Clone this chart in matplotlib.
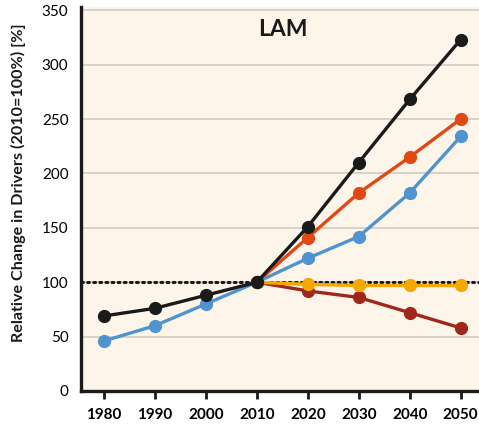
import matplotlib
matplotlib.use("Agg")
import matplotlib.pyplot as plt

years = [1980, 1990, 2000, 2010, 2020, 2030, 2040, 2050]
years_proj = [2010, 2020, 2030, 2040, 2050]

black_vals = [69, 76, 88, 100, 151, 210, 268, 323]
blue_vals = [46, 60, 80, 100, 122, 142, 182, 234]
orange_vals = [100, 141, 182, 215, 250]
yellow_vals = [100, 98, 97, 97, 97]
darkred_vals = [100, 92, 86, 72, 58]

yticks = [0, 50, 100, 150, 200, 250, 300, 350]
panel_title = "LAM"
ylabel = "Relative Change in Drivers (2010=100%) [%]"

plt.rcParams['font.family'] = ['Lato', 'DejaVu Sans']

fig = plt.figure(figsize=(4.79, 4.29), dpi=100)
ax = fig.add_axes([0.169, 0.0886, 0.831, 0.895])
bg = '#fdf5ea'
ax.set_facecolor(bg)

ax.set_xlim(1975.5, 2053.6)
ax.set_ylim(0, 353)

for y in yticks[1:]:
    ax.axhline(y, color='#d4d0c8', lw=1.3, zorder=1)
ax.axhline(100, color='#1a1a1a', lw=2.2, ls=(0, (0.6, 1.4)), dash_capstyle='round', zorder=2)

lw = 2.4
ms = 8.5
ax.plot(years, blue_vals, color='#4f93d1', lw=lw, marker='o', ms=ms, zorder=3)
ax.plot(years_proj, darkred_vals, color='#a0281a', lw=lw, marker='o', ms=ms, zorder=3)
ax.plot(years_proj, yellow_vals, color='#f6a800', lw=lw, marker='o', ms=ms, zorder=3)
ax.plot(years_proj, orange_vals, color='#e04912', lw=lw, marker='o', ms=ms, zorder=4)
ax.plot(years, black_vals, color='#1a1a1a', lw=lw, marker='o', ms=ms, zorder=5)

ax.text(2015.2, 332, panel_title, fontsize=16.5, fontweight='bold', color='#1a1a1a',
        ha='center', va='center')

ax.set_xticks(years)
ax.set_xticklabels([str(y) for y in years], fontsize=11, fontweight='bold')
ax.set_yticks(yticks)
ax.set_yticklabels([str(y) for y in yticks], fontsize=11)
ax.tick_params(axis='x', length=6, width=2, direction='out', pad=6, color='#1a1a1a')
ax.tick_params(axis='y', length=0, pad=9)

for s in ['top', 'right']:
    ax.spines[s].set_visible(False)
for s in ['left', 'bottom']:
    ax.spines[s].set_linewidth(2.4)
    ax.spines[s].set_color('#1a1a1a')

fig.text(0.038, 0.573, ylabel, rotation=90, fontsize=11.6, fontweight='bold',
         ha='center', va='center', color='#1a1a1a')

fig.savefig('out.png', dpi=100)
